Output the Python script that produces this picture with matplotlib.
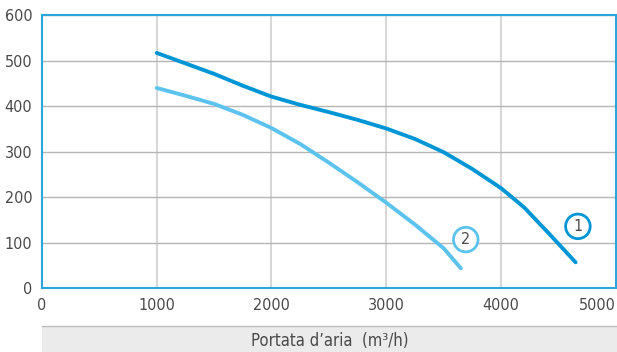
import matplotlib.pyplot as plt
from matplotlib.patches import Rectangle

plt.rcParams['font.family'] = ['Liberation Sans Narrow', 'DejaVu Sans']
plt.rcParams['font.stretch'] = 'condensed'

# curve 1 (dark blue)
portata_1 = [1000, 1250, 1500, 1750, 2000, 2250, 2500, 2750, 3000, 3250, 3500, 3750, 4000, 4200, 4400, 4650]
pressione_1 = [517, 494, 471, 445, 421, 403, 387, 370, 351, 328, 299, 262, 220, 178, 125, 57]

# curve 2 (light blue)
portata_2 = [1000, 1250, 1500, 1750, 2000, 2250, 2500, 2750, 3000, 3250, 3500, 3650]
pressione_2 = [440, 423, 405, 381, 352, 317, 276, 233, 188, 140, 88, 44]

x_ticks = [0, 1000, 2000, 3000, 4000, 5000]
y_ticks = [0, 100, 200, 300, 400, 500, 600]
x_label = "Portata d\u2019aria  (m\u00b3/h)"

dark = '#0096d6'
light = '#5cc3ef'
frame = '#2aa6dd'
txt = '#4a4a4a'

fig = plt.figure(figsize=(6.17, 3.52), dpi=100)
ax = fig.add_axes([0.068, 0.181, 0.93, 0.776])

ax.plot(portata_1, pressione_1, color=dark, lw=2.8, solid_capstyle='round', zorder=3)
ax.plot(portata_2, pressione_2, color=light, lw=2.8, solid_capstyle='round', zorder=3)

ax.set_xlim(0, 5000)
ax.set_ylim(0, 600)
ax.set_xticks(x_ticks)
ax.set_yticks(y_ticks)
ax.tick_params(length=0, labelsize=11.5, labelcolor=txt, pad=7)
ax.get_xticklabels()[-1].set_ha('right')
ax.xaxis.grid(True, color='#cfcfcf', lw=1.2)
ax.yaxis.grid(True, color='#b5b5b5', lw=1)
ax.set_axisbelow(True)
for s in ax.spines.values():
    s.set_color(frame)
    s.set_linewidth(1.5)

# numbered circle labels
for (cx, cy, n, c) in [(4670, 136, '1', dark), (3693, 107, '2', light)]:
    ax.annotate(n, (cx, cy), ha='center', va='center', fontsize=11.5, color=txt,
                bbox=dict(boxstyle='circle,pad=0.3', fc='white', ec=c, lw=2), zorder=4)

# gray axis title band
fig.patches.append(Rectangle((0.068, 0.0), 0.932, 0.074, transform=fig.transFigure,
                             fc='#ebebeb', ec='none'))
fig.lines.append(plt.Line2D([0.068, 1.0], [0.074, 0.074], transform=fig.transFigure,
                            color='#bdbdbd', lw=1))
fig.text(0.534, 0.03, x_label, ha='center', va='center', fontsize=12, color=txt)

fig.savefig('out.png', dpi=100)
